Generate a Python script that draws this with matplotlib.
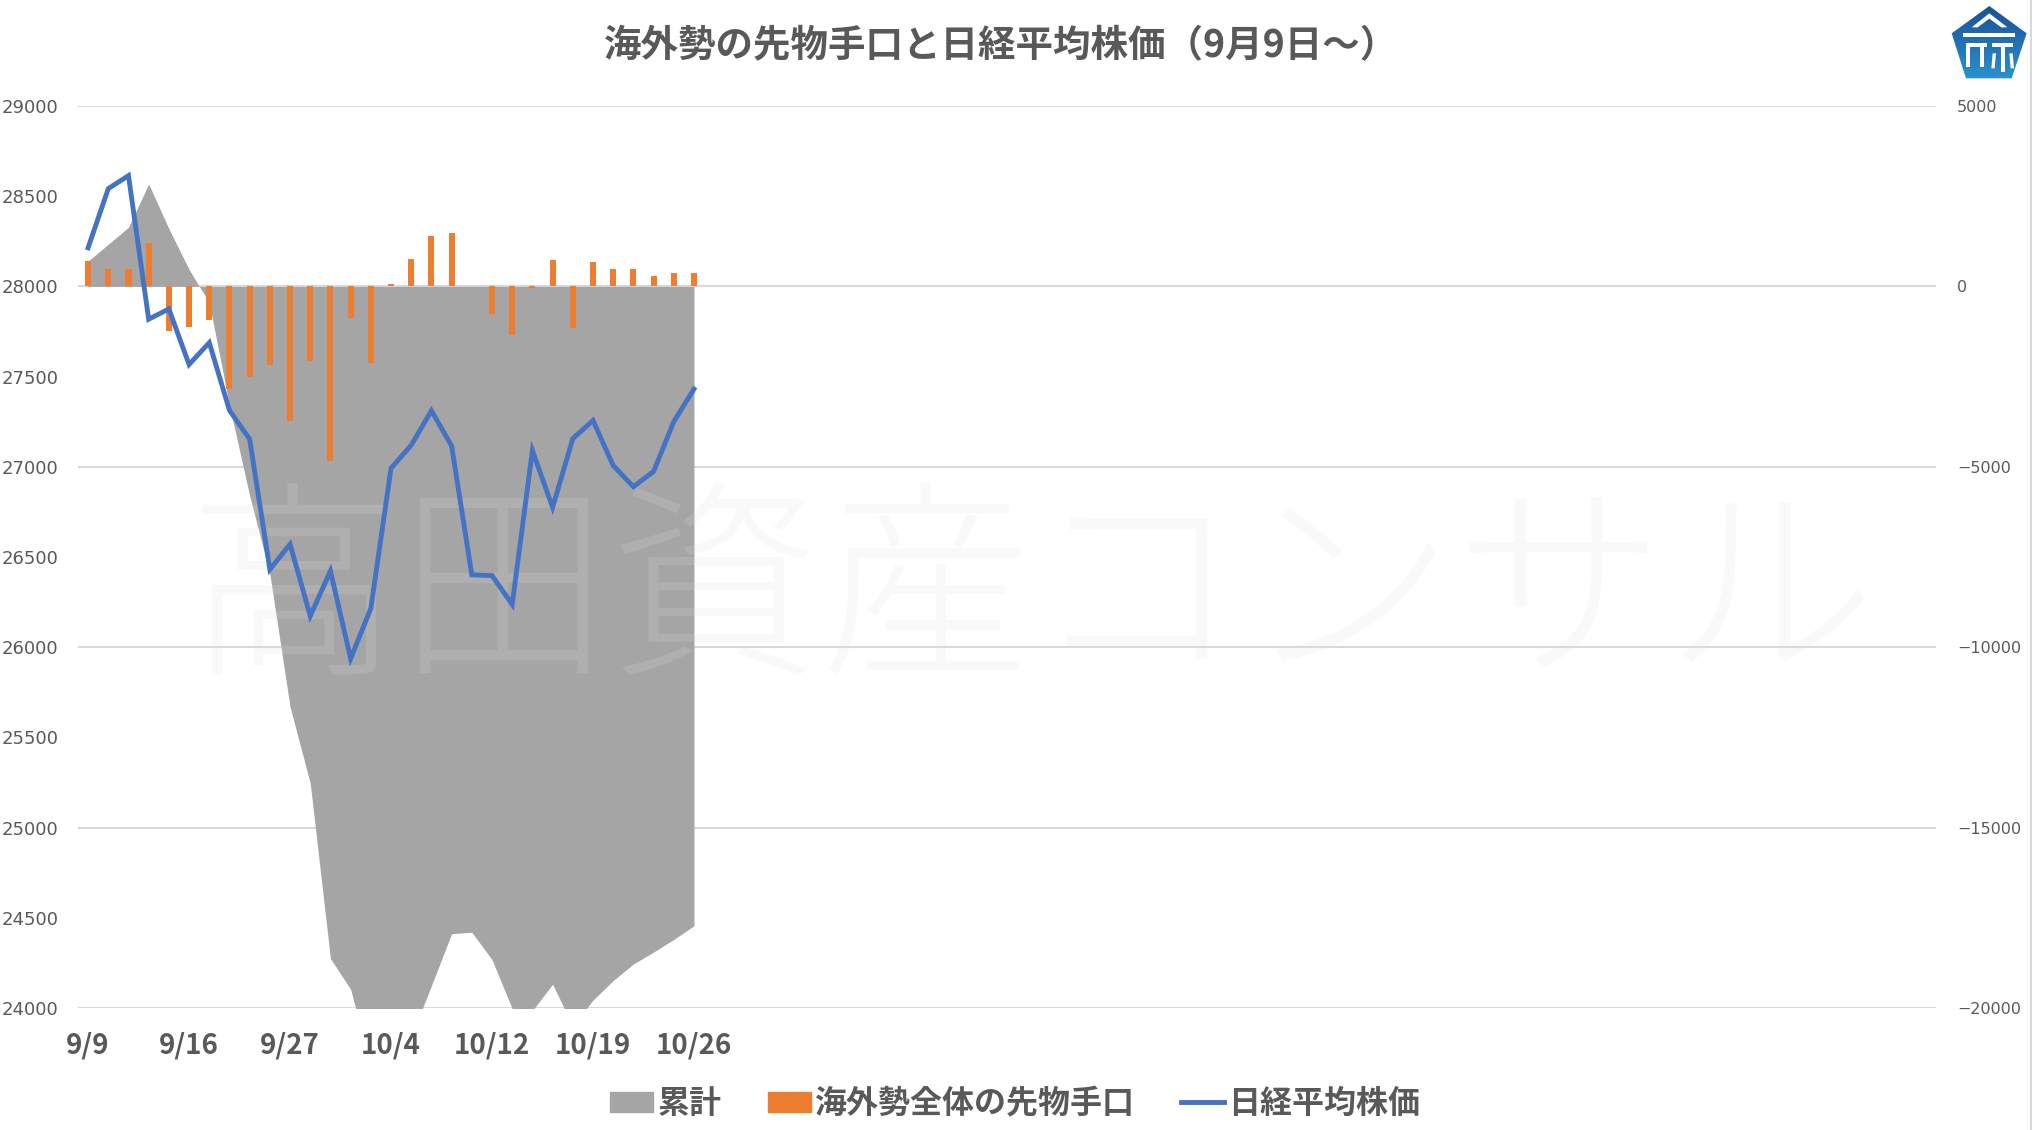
import numpy as np
import matplotlib
matplotlib.use("Agg")
import matplotlib.pyplot as plt
from matplotlib.patches import Patch, Polygon
from matplotlib.lines import Line2D

plt.rcParams['font.family'] = ['Noto Sans CJK JP', 'DejaVu Sans']

# trading days (2022), only the first 31 slots of the axis carry data
dates = ['9/9', '9/12', '9/13', '9/14', '9/15', '9/16', '9/20', '9/21', '9/22', '9/26',
         '9/27', '9/28', '9/29', '9/30', '10/3', '10/4', '10/5', '10/6', '10/7', '10/11',
         '10/12', '10/13', '10/14', '10/17', '10/18', '10/19', '10/20', '10/21', '10/24', '10/25',
         '10/26']
n_slots = 92

# 海外勢全体の先物手口 (right axis)
flows = [700, 470, 470, 1200, -1240, -1130, -925, -2840, -2500, -2170,
         -3730, -2070, -4850, -880, -2125, 55, 770, 1390, 1470, 20,
         -760, -1350, -45, 720, -1150, 690, 490, 490, 280, 360,
         360]
# 累計 (right axis)
cumulative = [700, 1170, 1640, 2840, 1600, 470, -455, -3300, -5800, -7970,
              -11650, -13770, -18630, -19480, -21600, -21560, -20800, -19380, -17940, -17900,
              -18660, -20020, -20070, -19340, -20500, -19780, -19240, -18780, -18450, -18100,
              -17720]
# 日経平均株価 (left axis)
nikkei = [28214, 28542, 28614, 27818, 27875, 27567, 27688, 27313, 27153, 26431,
          26571, 26173, 26422, 25937, 26215, 26992, 27120, 27311, 27116, 26401,
          26397, 26237, 27090, 26775, 27156, 27257, 27007, 26890, 26974, 27250,
          27431]

W, H = 2033, 1130
GRAY = '#A5A5A5'
ORANGE = '#ED7D31'
BLUE = '#4472C4'
TXT = '#595959'

def fx(px):
    return px / W

def fy(py):
    return 1 - py / H

fig = plt.figure(figsize=(W / 100, H / 100), dpi=100)
ax = fig.add_axes([fx(78), fy(1008), fx(1936) - fx(78), fy(106) - fy(1008)])
ax2 = ax.twinx()

x = np.arange(len(dates))

# right-scale series on ax
for v in range(-20000, 5001, 5000):
    ax.axhline(v, color='#D9D9D9', lw=1.5, zorder=0)
ax.fill_between(x, 0, cumulative, color=GRAY, lw=0, zorder=1)
ax.bar(x, flows, width=0.3, color=ORANGE, zorder=2)
ax.set_ylim(-20000, 5000)
ax.set_yticks(range(-20000, 5001, 5000))
ax.yaxis.tick_right()
ax.tick_params(axis='y', length=0, pad=15, labelsize=11.5, labelcolor=TXT)
for lab in ax.get_yticklabels():
    lab.set_family('DejaVu Sans')

ax.set_xlim(-0.5, n_slots - 0.5)
tick_pos = list(range(0, len(dates), 5))
ax.set_xticks(tick_pos)
ax.set_xticklabels([dates[i] for i in tick_pos], fontsize=20, fontweight='bold', color=TXT)
ax.tick_params(axis='x', length=0, pad=17)

# watermark
ax.text(fx(1032), fy(600), '高田資産コンサル', transform=fig.transFigure, ha='center', va='center',
        fontsize=152, color='#E0E0E0', alpha=0.18, fontweight=200, zorder=3, clip_on=False)

# left-scale line on ax2
ax2.plot(x, nikkei, color=BLUE, lw=3.5, solid_joinstyle='miter', zorder=4)
ax2.set_ylim(24000, 29000)
ax2.set_yticks(range(24000, 29001, 500))
ax2.yaxis.tick_left()
ax2.tick_params(axis='y', length=0, pad=14, labelsize=13, labelcolor=TXT)
for lab in ax2.get_yticklabels():
    lab.set_family(['Liberation Sans Narrow', 'DejaVu Sans'])

for a in (ax, ax2):
    for s in a.spines.values():
        s.set_visible(False)

# title
fig.text(fx(1001), fy(46), '海外勢の先物手口と日経平均株価（9月9日～）', ha='center', va='center',
         fontsize=27, fontweight='bold', color=TXT)

# legend
handles = [Patch(color=GRAY, label='累計'),
           Patch(color=ORANGE, label='海外勢全体の先物手口'),
           Line2D([], [], color=BLUE, lw=3.5, label='日経平均株価')]
leg = fig.legend(handles=handles, loc='center', bbox_to_anchor=(fx(1015), fy(1104)), ncol=3,
                 frameon=False, fontsize=23, handlelength=1.35, handleheight=0.6,
                 handletextpad=0.12, columnspacing=1.45)
for t in leg.get_texts():
    t.set_color(TXT)
    t.set_fontweight('bold')

# right border of the chart
fig.add_artist(Line2D([fx(2031), fx(2031)], [0, 1], color='#D9D9D9', lw=1.5))

# logo, top right
def lp(zx, zy):
    return (fx(1930 + zx / 3), fy(zy / 3))

pent = [lp(178, 18), lp(290, 100), lp(245, 235), lp(108, 235), lp(65, 100)]
lax = fig.add_axes([fx(1950), fy(80), fx(80), fy(0) - fy(80)])
lax.axis('off')
grad = np.linspace(0, 1, 64).reshape(-1, 1)
img = lax.imshow(grad, cmap=matplotlib.colors.LinearSegmentedColormap.from_list('g', ['#1B4F93', '#2A92D0']),
                 extent=[0, 1, 0, 1], aspect='auto', origin='upper', transform=fig.transFigure)
img.set_extent([fx(1950), fx(2030), fy(80), fy(4)])
poly = Polygon(pent, closed=True, transform=fig.transFigure, facecolor='none', edgecolor='none')
fig.add_artist(poly)
img.set_clip_path(poly)
white = [
    [lp(125, 82), lp(178, 40), lp(232, 82), lp(214, 82), lp(178, 56), lp(143, 82)],
    [lp(100, 100), lp(255, 100), lp(255, 112), lp(100, 112)],
    [lp(108, 130), lp(170, 130), lp(170, 142), lp(108, 142)],
    [lp(108, 130), lp(120, 130), lp(120, 200), lp(108, 200)],
    [lp(150, 142), lp(162, 142), lp(162, 200), lp(150, 200)],
    [lp(185, 130), lp(250, 130), lp(250, 142), lp(185, 142)],
    [lp(212, 142), lp(224, 142), lp(224, 215), lp(212, 215)],
    [lp(188, 160), lp(198, 160), lp(194, 205), lp(184, 205)],
    [lp(238, 160), lp(248, 160), lp(252, 205), lp(242, 205)],
]
for shp in white:
    fig.add_artist(Polygon(shp, closed=True, transform=fig.transFigure, facecolor='white', edgecolor='none'))

fig.savefig('out.png', dpi=100)
